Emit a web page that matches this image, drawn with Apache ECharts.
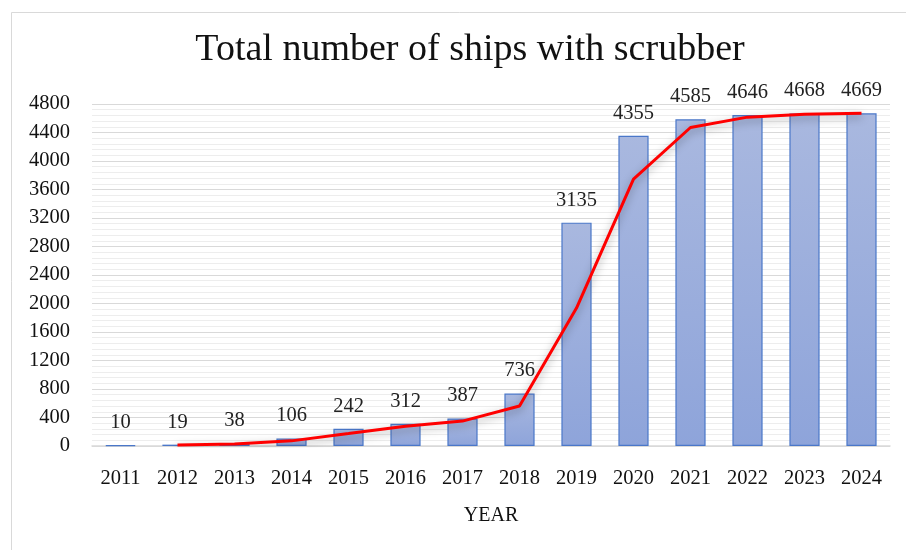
<!DOCTYPE html>
<html>
<head>
<meta charset="utf-8">
<script src="https://cdn.jsdelivr.net/npm/echarts@6/dist/echarts.min.js"></script>
<style>
  html, body { margin: 0; padding: 0; background: #fff; }
  #chart { width: 906px; height: 550px; }
</style>
</head>
<body>
<div id="chart"></div>
<script>
// data
const years = ['2011', '2012', '2013', '2014', '2015', '2016', '2017', '2018', '2019', '2020', '2021', '2022', '2023', '2024']
const ships = [10, 19, 38, 106, 242, 312, 387, 736, 3135, 4355, 4585, 4646, 4668, 4669]
// red trend line (starts at 2012)
const trend = [null, 14.5, 28.5, 72, 174, 277, 349.5, 561.5, 1935.5, 3745, 4470, 4615.5, 4657, 4668.5]

const serif = 'Liberation Serif'
const chart = echarts.init(document.getElementById('chart'))

const option = {
  animation: false,
  backgroundColor: '#fff',
  title: {
    text: 'Total number of ships with scrubber',
    left: 465,
    top: 26,
    textAlign: 'center',
    textStyle: { fontFamily: serif, fontSize: 38, fontWeight: 'normal', color: '#111' }
  },
  graphic: [{
    type: 'rect',
    shape: { x: 11.5, y: 12.5, width: 1000, height: 1000 },
    style: { fill: 'none', stroke: '#d9d9d9', lineWidth: 1 },
    silent: true
  }],
  grid: { left: 92, right: 16, top: 104, bottom: 104 },
  xAxis: {
    type: 'category',
    data: years,
    name: 'YEAR',
    nameLocation: 'middle',
    nameGap: 60,
    nameTextStyle: { fontFamily: serif, fontSize: 20, color: '#111' },
    axisLine: { lineStyle: { color: '#d9d9d9', width: 1.5 } },
    axisTick: { show: false },
    axisLabel: { fontFamily: serif, fontSize: 20.5, color: '#111', margin: 22 }
  },
  yAxis: {
    type: 'value',
    min: 0,
    max: 4800,
    interval: 400,
    axisLine: { show: false },
    axisTick: { show: false },
    axisLabel: {
      fontFamily: serif, fontSize: 20.5, color: '#111', margin: 22,
      formatter: v => String(v)
    },
    splitLine: { lineStyle: { color: '#d9d9d9', width: 1 } },
    minorTick: { show: false, splitNumber: 5 },
    minorSplitLine: { show: true, lineStyle: { color: '#ededed', width: 1 } }
  },
  series: [
    {
      type: 'bar',
      data: ships,
      barWidth: '53%',
      itemStyle: {
        color: new echarts.graphic.LinearGradient(0, 0, 0, 1, [
          { offset: 0, color: '#a9b8df' },
          { offset: 1, color: '#8ea4da' }
        ]),
        borderColor: '#4a77c9',
        borderWidth: 1.2
      },
      label: {
        show: true,
        position: 'top',
        distance: 12,
        fontFamily: serif,
        fontSize: 20.5,
        color: '#222'
      },
      z: 2
    },
    {
      type: 'line',
      data: trend,
      symbol: 'none',
      smooth: false,
      lineStyle: {
        color: '#ff0000',
        width: 3,
        shadowColor: 'rgba(0,0,0,0.35)',
        shadowBlur: 8,
        shadowOffsetY: 3
      },
      z: 3
    }
  ]
}

chart.setOption(option)
</script>
</body>
</html>
